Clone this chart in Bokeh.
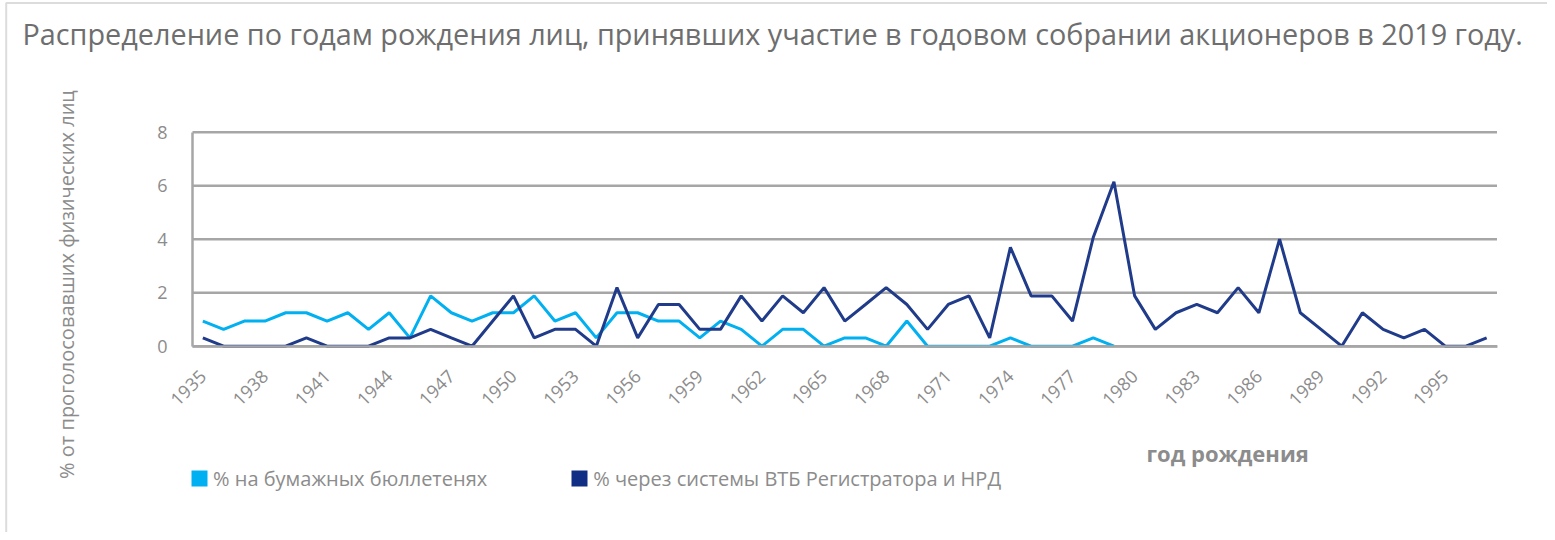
import math
from bokeh.plotting import figure
from bokeh.models import Range1d, FixedTicker, Legend, LegendItem, Label, BoxAnnotation
from bokeh.embed import file_html
from bokeh.resources import INLINE

nan = float("nan")

title_text = "Распределение по годам рождения лиц, принявших участие в годовом собрании акционеров в 2019 году."
y_title = "% от проголосовавших физических лиц"
x_title = "год рождения"
series_names = ["% на бумажных бюллетенях", "% через системы ВТБ Регистратора и НРД"]

years = [1935, 1936, 1937, 1938, 1939, 1940, 1941, 1942, 1943, 1944,
         1945, 1946, 1947, 1948, 1949, 1950, 1951, 1952, 1953, 1954,
         1955, 1956, 1957, 1958, 1959, 1960, 1961, 1962, 1963, 1964,
         1965, 1966, 1967, 1968, 1969, 1970, 1971, 1972, 1973, 1974,
         1975, 1976, 1977, 1978, 1979, 1980, 1981, 1982, 1983, 1984,
         1985, 1986, 1987, 1988, 1989, 1990, 1991, 1992, 1993, 1994,
         1995, 1996, 1997]

paper = [0.94, 0.63, 0.94, 0.94, 1.25, 1.25, 0.94, 1.25, 0.63, 1.25,
         0.31, 1.88, 1.25, 0.94, 1.25, 1.25, 1.88, 0.94, 1.25, 0.31,
         1.25, 1.25, 0.94, 0.94, 0.31, 0.94, 0.63, 0.0, 0.63, 0.63,
         0.0, 0.31, 0.31, 0.0, 0.94, 0.0, 0.0, 0.0, 0.0, 0.31,
         0.0, 0.0, 0.0, 0.31, 0.0, nan, nan, nan, nan, nan,
         nan, nan, nan, nan, nan, nan, nan, nan, nan, nan,
         nan, nan, nan]

electronic = [0.31, 0.0, 0.0, 0.0, 0.0, 0.31, 0.0, 0.0, 0.0, 0.31,
              0.31, 0.63, 0.31, 0.0, 0.94, 1.88, 0.31, 0.63, 0.63, 0.0,
              2.19, 0.31, 1.56, 1.56, 0.63, 0.63, 1.88, 0.94, 1.88, 1.25,
              2.19, 0.94, 1.56, 2.19, 1.56, 0.63, 1.56, 1.88, 0.31, 3.7,
              1.88, 1.88, 0.94, 4.06, 6.15, 1.88, 0.63, 1.25, 1.56, 1.25,
              2.19, 1.25, 4.0, 1.25, 0.63, 0.0, 1.25, 0.63, 0.31, 0.63,
              0.0, 0.0, 0.31]

x_ticks = [1935, 1938, 1941, 1944, 1947, 1950, 1953, 1956, 1959, 1962,
           1965, 1968, 1971, 1974, 1977, 1980, 1983, 1986, 1989, 1992, 1995]
y_ticks = [0, 2, 4, 6, 8]

LIGHT = "#00b0f0"
DARK = "#1f3b8a"
GRID = "#a6a6a6"
TXT = "#8c8c8c"
FONT = "Open Sans"

# ---- canvas geometry (pixels) of the chart area
W, H = 1547, 532
PX_L, PX_R = 192.0, 1496.5
PX_T, PX_B = 131.7, 345.7
X0, X1 = years[0] - 0.5, years[-1] + 0.5
Y0, Y1 = y_ticks[0], y_ticks[-1]
KX = (PX_R - PX_L) / (X1 - X0)
KY = (PX_B - PX_T) / (Y1 - Y0)


def dx(cx):
    return X0 + (cx - PX_L) / KX


def dy(cy):
    return Y0 + (PX_B - cy) / KY


p = figure(width=W, height=H, output_backend="svg", toolbar_location=None, title=None,
           x_range=Range1d(dx(0), dx(W)), y_range=Range1d(dy(H), dy(0)),
           min_border=0, min_border_left=0, min_border_right=0,
           min_border_top=0, min_border_bottom=0)
p.outline_line_color = None
p.background_fill_color = "white"
p.border_fill_color = "white"

# horizontal gridlines limited to the chart area
p.xgrid.visible = False
p.ygrid.visible = False
p.segment(x0=[X0] * len(y_ticks), x1=[X1] * len(y_ticks), y0=y_ticks, y1=y_ticks,
          line_color=GRID, line_width=2.5)

p.yaxis.ticker = FixedTicker(ticks=y_ticks)
p.xaxis.ticker = FixedTicker(ticks=x_ticks)
p.yaxis.fixed_location = X0
p.yaxis.bounds = (Y0, Y1)
p.xaxis.fixed_location = Y0
p.xaxis.bounds = (X0, X1)
for ax in (p.xaxis, p.yaxis):
    ax.major_tick_in = 0
    ax.major_tick_out = 0
    ax.minor_tick_in = 0
    ax.minor_tick_out = 0
    ax.axis_line_color = GRID
    ax.axis_line_width = 2.5
    ax.major_label_text_color = TXT
    ax.major_label_text_font = FONT
p.yaxis.major_label_text_font_size = "18px"
p.yaxis.major_label_standoff = 25
p.xaxis.major_label_text_font_size = "18px"
p.xaxis.major_label_orientation = math.pi / 4
p.xaxis.major_label_standoff = 27

p.line(years, paper, line_color=LIGHT, line_width=3)
p.line(years, electronic, line_color=DARK, line_width=3)

# zero-width bars: invisible in the plot, give square legend swatches
sw1 = p.vbar(x=years, top=paper, bottom=0, width=0, fill_color=LIGHT, line_color=None)
sw2 = p.vbar(x=years, top=electronic, bottom=0, width=0, fill_color="#0f2e84", line_color=None)

legend = Legend(items=[LegendItem(label=series_names[0], renderers=[sw1]),
                       LegendItem(label=series_names[1], renderers=[sw2])],
                location=(189.0, 40.5), orientation="horizontal",
                glyph_width=20, glyph_height=20, label_standoff=4, spacing=82,
                padding=0, margin=0, border_line_color=None,
                background_fill_alpha=0,
                label_text_font=FONT, label_text_font_size="20px",
                label_text_color=TXT)
p.add_layout(legend)

p.add_layout(Label(x=dx(22), y=dy(33), text=title_text, text_baseline="middle",
                   text_align="left", text_font=FONT, text_font_size="28.8px",
                   text_color="#6e6e6e"))
p.add_layout(Label(x=dx(66), y=dy(284), text=y_title, angle=math.pi / 2,
                   text_baseline="middle", text_align="center", text_font=FONT,
                   text_font_size="20px", text_color=TXT))
p.add_layout(Label(x=dx(1146), y=dy(452), text=x_title, text_baseline="alphabetic",
                   text_align="left", text_font=FONT, text_font_size="22px",
                   text_font_style="bold", text_color=TXT))

# outer frame of the picture (left and top edges visible)
p.add_layout(BoxAnnotation(left=dx(5.7), right=dx(W + 20), top=dy(2.5), bottom=dy(H + 20),
                           fill_alpha=0, line_color="#8c8c8c", line_width=2))

open("out.html", "w").write(file_html(p, INLINE))
